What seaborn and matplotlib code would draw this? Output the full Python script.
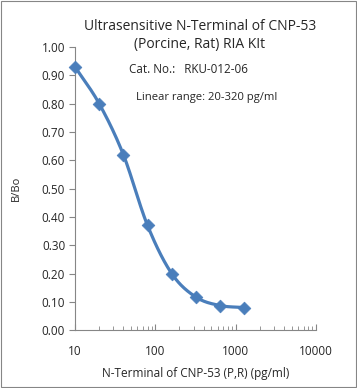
import numpy as np
import pandas as pd
import matplotlib
matplotlib.use("Agg")
import matplotlib.pyplot as plt
import seaborn as sns
from matplotlib.patches import Rectangle
from matplotlib.ticker import LogLocator, FixedLocator, NullFormatter

# Daten
konz = [10, 20, 40, 80, 160, 320, 640, 1280]
b_bo = [0.93, 0.80, 0.62, 0.37, 0.20, 0.117, 0.087, 0.08]
y_ticks = [0.0, 0.1, 0.2, 0.3, 0.4, 0.5, 0.6, 0.7, 0.8, 0.9, 1.0]
x_ticks = [10, 100, 1000, 10000]

title_text = "Ultrasensitive N-Terminal of CNP-53\n(Porcine, Rat) RIA KIt"
cat_text = "Cat. No.:   RKU-012-06"
range_text = "Linear range: 20-320 pg/ml"
x_label = "N-Terminal of CNP-53 (P,R) (pg/ml)"
y_label = "B/Bo"

farbe = "#4A7EBB"


def glatte_kurve(x, y, n=30):
    """Catmull-Rom-Glaettung im log-x Raum (wie Excel 'geglaettete Linie')"""
    lx = np.log10(np.asarray(x, float))
    ly = np.asarray(y, float)
    px = np.concatenate([[2 * lx[0] - lx[1]], lx, [2 * lx[-1] - lx[-2]]])
    py = np.concatenate([[2 * ly[0] - ly[1]], ly, [2 * ly[-1] - ly[-2]]])
    xs, ys = [], []
    t = np.linspace(0, 1, n)
    for i in range(1, len(px) - 2):
        for arr, out in ((px, xs), (py, ys)):
            p0, p1, p2, p3 = arr[i - 1], arr[i], arr[i + 1], arr[i + 2]
            out.extend(0.5 * ((2 * p1) + (-p0 + p2) * t
                              + (2 * p0 - 5 * p1 + 4 * p2 - p3) * t ** 2
                              + (-p0 + 3 * p1 - 3 * p2 + p3) * t ** 3))
    return 10 ** np.array(xs), np.array(ys)


sns.set_style("white")
plt.rcParams['font.family'] = ['Open Sans', 'DejaVu Sans']

fig = plt.figure(figsize=(3.57, 3.88), dpi=100)
ax = fig.add_axes([0.210, 0.149, 0.675, 0.730])

df = pd.DataFrame({"konz": konz, "b_bo": b_bo})
kx, ky = glatte_kurve(konz, b_bo)
ax.plot(kx, ky, color=farbe, lw=2.3, solid_capstyle="round", zorder=2, clip_on=False)
sns.scatterplot(data=df, x="konz", y="b_bo", marker="D", s=42, color=farbe,
                edgecolor=farbe, linewidth=0.5, ax=ax, zorder=3, clip_on=False)

ax.set_xscale("log")
ax.set_xlim(10, 10000)
ax.set_ylim(0, 1.0)
ax.xaxis.set_major_locator(FixedLocator(x_ticks))
ax.set_xticklabels([str(v) for v in x_ticks])
ax.xaxis.set_minor_locator(LogLocator(base=10, subs=np.arange(2, 10)))
ax.xaxis.set_minor_formatter(NullFormatter())
ax.set_yticks(y_ticks)
ax.set_yticklabels([f"{v:.2f}" for v in y_ticks])

for s in ["top", "right"]:
    ax.spines[s].set_visible(False)
for s in ["left", "bottom"]:
    ax.spines[s].set_color("#868686")
    ax.spines[s].set_linewidth(0.8)

ax.tick_params(axis="y", which="major", direction="out", length=4, width=0.8,
               color="#868686", labelsize=8.5, pad=3, left=True)
ax.tick_params(axis="x", which="major", direction="in", length=4, width=0.8,
               color="#868686", labelsize=8.5, pad=11, bottom=True)
ax.tick_params(axis="x", which="minor", direction="in", length=3, width=0.6,
               color="#868686", bottom=True)

ax.set_xlabel(x_label, fontsize=8.5, labelpad=6)
ax.set_ylabel(y_label, fontsize=8, labelpad=14)
ax.grid(False)

fig.text(0.56, 0.908, title_text, ha="center", va="center", fontsize=10,
         linespacing=1.3)
fig.text(0.362, 0.82, cat_text, ha="left", va="center", fontsize=8.4)
fig.text(0.382, 0.748, range_text, ha="left", va="center", fontsize=8.1)

fig.patches.append(Rectangle((0.002, 0.002), 0.996, 0.996, transform=fig.transFigure,
                             fill=False, edgecolor="#868686", lw=0.8))

fig.savefig("out.png", dpi=100)
